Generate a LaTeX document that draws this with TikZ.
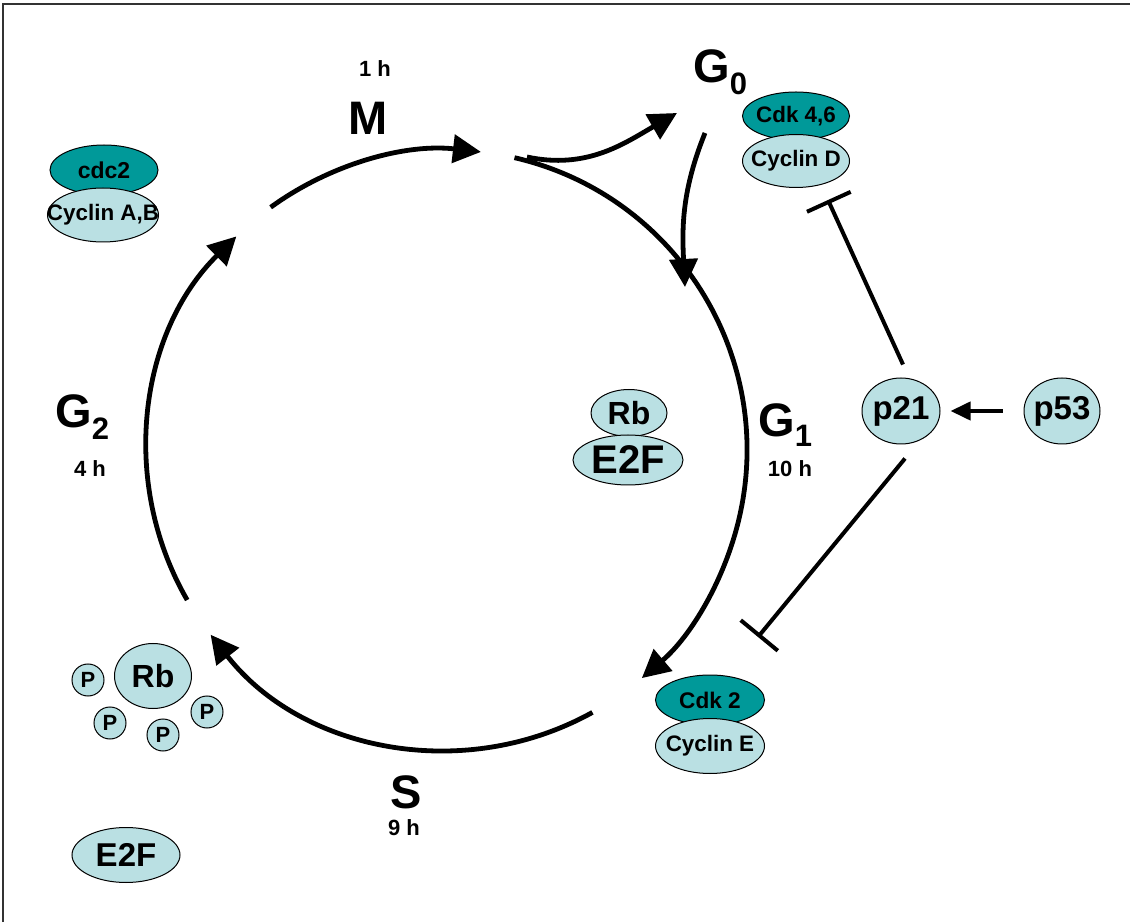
\documentclass[tikz,border=0pt]{standalone}
\usepackage{fontspec}
\setmainfont{Liberation Sans}
\usetikzlibrary{arrows.meta,shapes.geometric}
\definecolor{cdkteal}{HTML}{009999}
\definecolor{cyclinblue}{HTML}{BAE0E3}
\newcommand{\fs}[1]{\bfseries\fontsize{#1}{#1}\selectfont}
\newcommand{\wide}[1]{\makebox[0pt]{#1}}
\tikzset{
  cdk/.style={ellipse,draw,line width=0.5pt,fill=cdkteal,inner sep=0pt},
  cyclin/.style={ellipse,draw,line width=0.5pt,fill=cyclinblue,inner sep=0pt},
  phos/.style={circle,draw,line width=0.5pt,fill=cyclinblue,inner sep=0pt,minimum size=16pt,font=\fs{11}},
  phase/.style={inner sep=0pt,anchor=base west,font=\fs{23.5}},
  hours/.style={inner sep=0pt,anchor=base,font=\fs{11}},
  cyc/.style={line width=2.4pt,-{Triangle[length=14pt,width=14pt]}},
  inhib/.style={line width=2pt,-{Bar[width=24pt,line width=2pt]}},
  act/.style={line width=2pt,-{Triangle[length=10pt,width=9pt]}},
}
\begin{document}
\begin{tikzpicture}[x=0.5pt,y=0.5pt]
\useasboundingbox (0,0) rectangle (1130,922);
\draw[line width=1pt,black!80] (3,0) -- (3,918) -- (1130,918);
\coordinate (C) at (447,472);
\def\rad{150pt}
% the cycle
\draw[cyc] (C) ++(126:\rad) arc[start angle=126,end angle=83.5,radius=\rad];
\draw[cyc] (C) ++(77:\rad) arc[start angle=77,end angle=-49.5,radius=\rad];
\draw[cyc] (C) ++(-61:\rad) arc[start angle=-61,end angle=-142,radius=\rad];
\draw[cyc] (C) ++(210:\rad) arc[start angle=210,end angle=134.6,radius=\rad];
% G0 loop
\coordinate (out0) at (527,765);
\coordinate (tip0) at (677,809);
\coordinate (back0) at (705,789);
\coordinate (tip1) at (685,635);
\draw[cyc] (out0) to[out=-12,in=210] (tip0);
\draw[cyc] (back0) to[out=-112,in=93] (tip1);
% phases
\node[hours] (t1) at (375,845) {1 h};
\node[phase,anchor=base] (m) at (368,787) {M};
\node[phase] (g0) at (693,839) {G\raisebox{-6pt}{\fs{15.5}0}};
\node[phase] (g1) at (758,485) {G\raisebox{-5pt}{\fs{15.5}1}};
\node[hours] (t10) at (790,445) {10 h};
\node[phase] (g2) at (55,494) {G\raisebox{-6pt}{\fs{15.5}2}};
\node[hours] (t4) at (90,445) {4 h};
\node[phase,anchor=base] (s) at (406,114) {S};
\node[hours] (t9) at (404,87) {9 h};
% complexes
\node[cdk,minimum width=54pt,minimum height=25pt,font=\fs{11.5}] (cdc2) at (104,752) {\wide{cdc2}};
\node[cyclin,minimum width=55.5pt,minimum height=27pt,font=\fs{11.2}] (cycAB) at (103,707) {\wide{Cyclin A,B}};
\node[cdk,minimum width=53.5pt,minimum height=24pt,font=\fs{11.2}] (cdk46) at (796,806) {\wide{Cdk 4,6}};
\node[cyclin,minimum width=53.5pt,minimum height=26.5pt,font=\fs{11.2}] (cycD) at (796,761) {\wide{Cyclin D}};
\node[cyclin,minimum width=38pt,minimum height=23.5pt,font=\fs{16}] (rb) at (629,509) {\wide{Rb}};
\node[cyclin,minimum width=55pt,minimum height=25pt,font=\fs{20}] (e2f) at (628,462) {\wide{E2F}};
\node[cdk,minimum width=54.5pt,minimum height=25pt,font=\fs{11.3}] (cdk2) at (710,222) {\wide{Cdk 2}};
\node[cyclin,minimum width=54.5pt,minimum height=27.5pt,font=\fs{11.2}] (cycE) at (710,176) {\wide{Cyclin E}};
% p53 / p21
\node[cyclin,minimum width=39pt,minimum height=33pt,font=\fs{16.5}] (p21) at (901,511) {\wide{p21}};
\node[cyclin,minimum width=38pt,minimum height=33pt,font=\fs{16.5}] (p53) at (1062,511) {\wide{p53}};
\draw[act,shorten <=10.5pt,shorten >=5pt] (p53) -- (p21);
\coordinate (barD) at (828,722);
\coordinate (barE) at (758,285);
\draw[inhib] (p21.north) ++(2,13) -- (barD);
\draw[inhib] (p21.south) ++(4,-14) -- (barE);
% free Rb and E2F
\node[cyclin,minimum width=38.5pt,minimum height=32.5pt,font=\fs{16}] (rbP) at (153,246) {\wide{Rb}};
\node[phos] (p1) at (88,242) {P};
\node[phos] (p2) at (110,199) {P};
\node[phos] (p3) at (163,187) {P};
\node[phos] (p4) at (207,210) {P};
\node[cyclin,minimum width=54pt,minimum height=27.5pt,font=\fs{16.5}] (e2fFree) at (126,67) {\wide{E2F}};
\end{tikzpicture}
\end{document}
